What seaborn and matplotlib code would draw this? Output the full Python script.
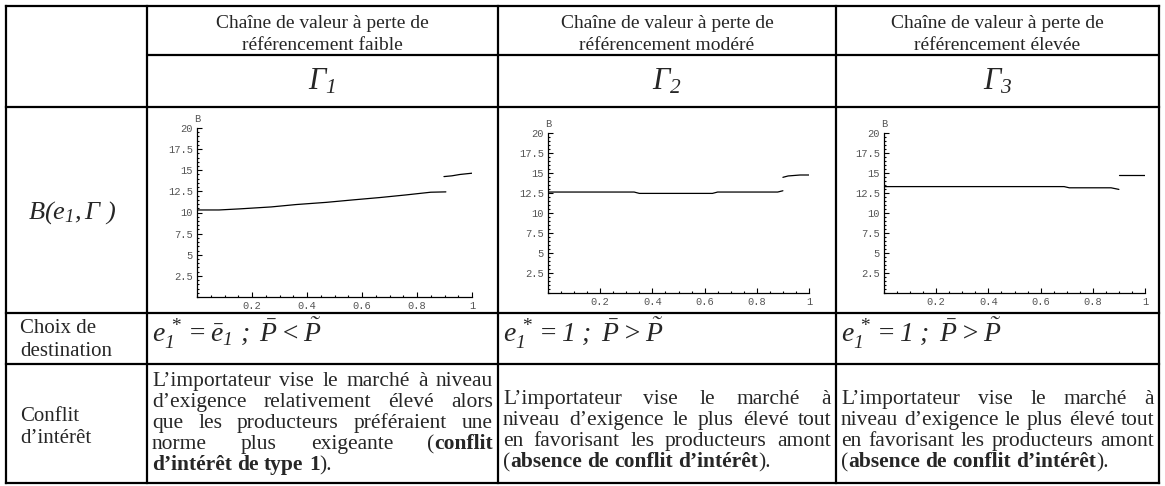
import numpy as np
import pandas as pd
import matplotlib
matplotlib.use('Agg')
import matplotlib.pyplot as plt
import seaborn as sns
from matplotlib.ticker import MultipleLocator

# curve data (B against e1)
g1_low_x = [0, 0.08, 0.156, 0.27, 0.36, 0.47, 0.57, 0.665, 0.76, 0.85, 0.905]
g1_low_y = [10.3, 10.3, 10.43, 10.66, 10.94, 11.2, 11.5, 11.77, 12.08, 12.4, 12.44]
g1_high_x = [0.898, 0.927, 0.956, 0.985, 1.0]
g1_high_y = [14.25, 14.34, 14.5, 14.6, 14.65]

g2_low_x = [0, 0.33, 0.35, 0.63, 0.65, 0.88, 0.9]
g2_low_y = [12.62, 12.62, 12.45, 12.45, 12.62, 12.62, 12.78]
g2_high_x = [0.9, 0.92, 0.966, 1.0]
g2_high_y = [14.46, 14.63, 14.75, 14.75]

g3_low_x = [0, 0.69, 0.71, 0.87, 0.9]
g3_low_y = [13.3, 13.3, 13.15, 13.15, 12.95]
g3_high_x = [0.9, 1.0]
g3_high_y = [14.75, 14.75]

x_ticks = [0.2, 0.4, 0.6, 0.8, 1.0]
x_labels = ['0.2', '0.4', '0.6', '0.8', '1']
y_ticks = [2.5, 5, 7.5, 10, 12.5, 15, 17.5, 20]
y_labels = ['2.5', '5', '7.5', '10', '12.5', '15', '17.5', '20']

headers = ['Chaîne de valeur à perte de\nréférencement faible',
           'Chaîne de valeur à perte de\nréférencement modéré',
           'Chaîne de valeur à perte de\nréférencement élevée']
gammas = [r'$\Gamma_1$', r'$\Gamma_2$', r'$\Gamma_3$']
choix = [r'$e_1^{\,*} = \bar{e}_1\ ;\ \bar{P} < \tilde{P}$',
         r'$e_1^{\,*} = 1\ ;\ \bar{P} > \tilde{P}$',
         r'$e_1^{\,*} = 1\ ;\ \bar{P} > \tilde{P}$']
conflit_1 = ['L’importateur vise le marché à niveau',
             'd’exigence relativement élevé alors',
             'que les producteurs préféraient une',
             'norme plus exigeante (**conflit',
             'd’intérêt de type 1**).']
conflit_23 = ['L’importateur vise le marché à',
              'niveau d’exigence le plus élevé tout',
              'en favorisant les producteurs amont',
              '(**absence de conflit d’intérêt**).']

sns.set_style('white')
plt.rcParams['mathtext.fontset'] = 'custom'
plt.rcParams['mathtext.rm'] = 'Liberation Serif:italic'
plt.rcParams['mathtext.it'] = 'Liberation Serif:italic'
plt.rcParams['mathtext.bf'] = 'Liberation Serif:bold'
SERIF = 'Liberation Serif'

W, H = 1165, 486
fig = plt.figure(figsize=(W / 100, H / 100), dpi=100)
ax = fig.add_axes([0, 0, 1, 1])
ax.set_xlim(0, W)
ax.set_ylim(H, 0)
ax.axis('off')

# table grid (pixel coordinates)
L, C1, C2, C3, R = 6, 147, 498, 836, 1159
T, R1, R2, R3, R4, B = 6, 55, 107, 313, 364, 483
lw = 1.6
for y in [T, R2, R3, R4, B]:
    ax.plot([L, R], [y, y], color='black', lw=lw, solid_capstyle='projecting')
ax.plot([C1, R], [R1, R1], color='black', lw=lw)
for x in [L, C1, C2, C3, R]:
    ax.plot([x, x], [T, B], color='black', lw=lw, solid_capstyle='projecting')

cols = [(C1, C2), (C2, C3), (C3, R)]

# header texts
for (a, b), txt in zip(cols, headers):
    l1, l2 = txt.split('\n')
    ax.text((a + b) / 2, 28, l1, ha='center', va='baseline', family=SERIF, fontsize=14)
    ax.text((a + b) / 2, 50, l2, ha='center', va='baseline', family=SERIF, fontsize=14)

for (a, b), g in zip(cols, gammas):
    ax.text((a + b) / 2, 89, g, ha='center', va='baseline', fontsize=22)

ax.text(72, 219, r'$B(e_1,\Gamma\ )$', ha='center', va='baseline', fontsize=19)
ax.text(20, 333, 'Choix de', va='baseline', family=SERIF, fontsize=15)
ax.text(20, 356, 'destination', va='baseline', family=SERIF, fontsize=15)
ax.text(20, 421, 'Conflit', va='baseline', family=SERIF, fontsize=15)
ax.text(20, 443, 'd’intérêt', va='baseline', family=SERIF, fontsize=15)

for (a, b), c in zip(cols, choix):
    ax.text(a + 5, 342, c, va='baseline', fontsize=20)

renderer = fig.canvas.get_renderer()


def width_of(s, bold, size):
    t = ax.text(0, 0, s, family=SERIF, fontsize=size, fontweight='bold' if bold else 'normal')
    w = t.get_window_extent(renderer).width
    t.remove()
    return w


def paragraph(lines, x0, x1, baselines, size=15.5):
    bold = False
    space = width_of('a a', False, size) - width_of('aa', False, size)
    for i, line in enumerate(lines):
        words = []
        for w in line.split(' '):
            segs = []
            for k, p in enumerate(w.split('**')):
                if k > 0:
                    bold = not bold
                if p:
                    segs.append((p, bold, width_of(p, bold, size)))
            words.append(segs)
        total = sum(s[2] for wd in words for s in wd)
        last = i == len(lines) - 1
        gap = space if last or len(words) < 2 else (x1 - x0 - total) / (len(words) - 1)
        x = x0
        for wd in words:
            for p, b, w in wd:
                ax.text(x, baselines[i], p, va='baseline', family=SERIF, fontsize=size,
                        fontweight='bold' if b else 'normal')
                x += w
            x += gap


paragraph(conflit_1, C1 + 5, C2 - 5, [386, 407, 428, 449, 470])
paragraph(conflit_23, C2 + 5, C3 - 5, [404, 425, 446, 467])
paragraph(conflit_23, C3 + 5, R - 5, [404, 425, 446, 467])


def small_plot(x0, x1, y0, y20, lo_x, lo_y, hi_x, hi_y):
    a = fig.add_axes([x0 / W, (H - y0) / H, (x1 - x0) / W, (y0 - y20) / H])
    sns.lineplot(x=lo_x, y=lo_y, ax=a, color='black', lw=0.9)
    sns.lineplot(x=hi_x, y=hi_y, ax=a, color='black', lw=0.9)
    a.set_xlim(0, 1)
    a.set_ylim(0, 20)
    a.patch.set_alpha(0)
    for s in ['top', 'right']:
        a.spines[s].set_visible(False)
    for s in ['left', 'bottom']:
        a.spines[s].set_color('black')
        a.spines[s].set_linewidth(0.9)
    a.set_xticks(x_ticks)
    a.set_xticklabels(x_labels)
    a.set_yticks(y_ticks)
    a.set_yticklabels(y_labels)
    a.xaxis.set_minor_locator(MultipleLocator(0.05))
    a.yaxis.set_minor_locator(MultipleLocator(0.5))
    a.tick_params(which='both', direction='in', bottom=True, left=True, width=0.8,
                  color='black', labelsize=7.5, labelcolor='#555555', pad=3)
    a.tick_params(which='major', length=3.5)
    a.tick_params(which='minor', length=1.5)
    for t in a.get_xticklabels() + a.get_yticklabels():
        t.set_family('Liberation Mono')
    a.set_xlabel('')
    a.set_ylabel('')
    a.annotate('B', (0, 1), xycoords='axes fraction', xytext=(0, 3), textcoords='offset points',
               ha='center', va='bottom', fontsize=7.5, color='#555555', family='Liberation Mono')
    return a


small_plot(197, 472, 297, 128, g1_low_x, g1_low_y, g1_high_x, g1_high_y)
small_plot(548, 809, 293, 133, g2_low_x, g2_low_y, g2_high_x, g2_high_y)
small_plot(884, 1145, 293, 133, g3_low_x, g3_low_y, g3_high_x, g3_high_y)

fig.savefig('out.png', dpi=100)
